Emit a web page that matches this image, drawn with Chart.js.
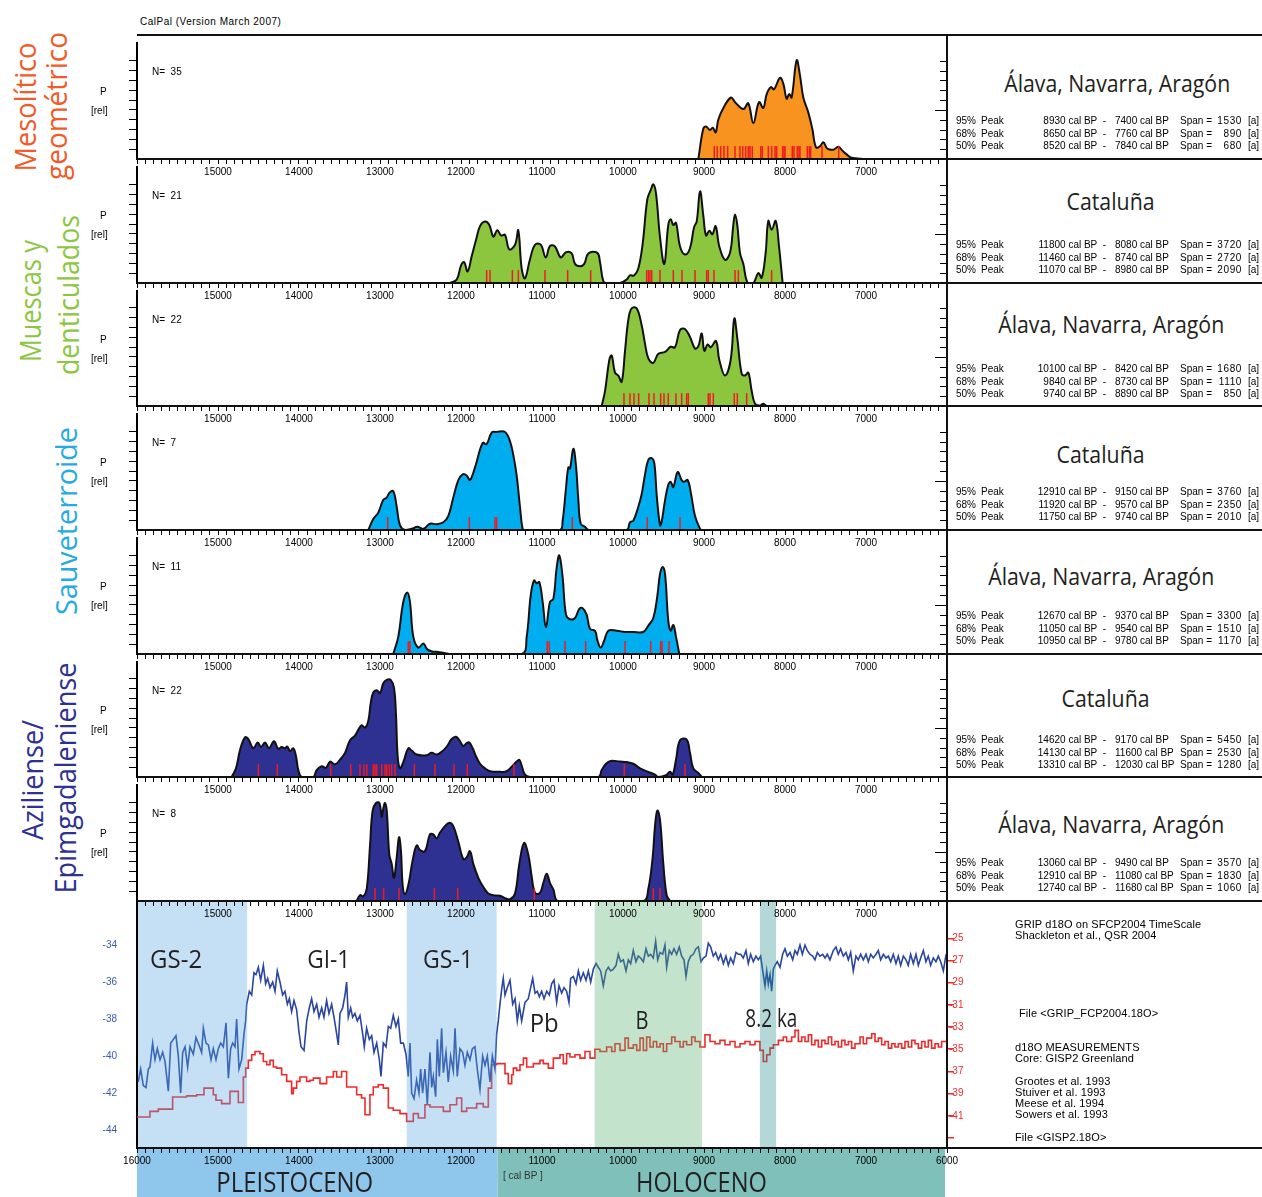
<!DOCTYPE html>
<html><head><meta charset="utf-8">
<script src="https://cdn.jsdelivr.net/npm/chart.js@4.4.1/dist/chart.umd.min.js"></script>
<style>
body{margin:0;background:#fff;}
#root{position:relative;width:1262px;height:1197px;overflow:hidden;font-family:"Liberation Sans",Arial,sans-serif;color:#000;background:#fff;}
.t{position:absolute;white-space:pre;line-height:1;z-index:50;}
canvas{position:absolute;}
.hl{position:absolute;height:2px;background:#111;z-index:40;}
.vl{position:absolute;width:2px;background:#111;z-index:40;}
</style></head><body><div id="root"></div>
<script>
// ---------------- DATA ----------------
const panelEdges = [35,159,283,406,530,654,777,901];
const bottomEdge = 1148;
const panelColors = ['#f7931e','#8cc63f','#8cc63f','#00aeef','#00aeef','#2e3192','#2e3192'];
const regionNames = ['Álava, Navarra, Aragón','Cataluña','Álava, Navarra, Aragón','Cataluña','Álava, Navarra, Aragón','Cataluña','Álava, Navarra, Aragón'];
const sampleCounts = [35,21,22,7,11,22,8];
const range95 = [[8930,7400,1530],[11800,8080,3720],[10100,8420,1680],[12910,9150,3760],[12670,9370,3300],[14620,9170,5450],[13060,9490,3570]];
const range68 = [[8650,7760,890],[11460,8740,2720],[9840,8730,1110],[11920,9570,2350],[11050,9540,1510],[14130,11600,2530],[12910,11080,1830]];
const range50 = [[8520,7840,680],[11070,8980,2090],[9740,8890,850],[11750,9740,2010],[10950,9780,1170],[13310,12030,1280],[12740,11680,1060]];

// summed probability curves (cal BP, relative P)
const mesoGeoAlava = [[9070,0],[9009,0.26],[8975,0.28],[8926,0.25],[8893,0.27],[8856,0.23],[8823,0.34],[8761,0.44],[8667,0.53],[8617,0.49],[8515,0.43],[8454,0.48],[8391,0.31],[8321,0.49],[8268,0.44],[8226,0.56],[8173,0.62],[8136,0.60],[8062,0.70],[8021,0.65],[7980,0.52],[7947,0.56],[7918,0.53],[7856,0.85],[7815,0.72],[7774,0.53],[7712,0.40],[7663,0.26],[7617,0.10],[7568,0.11],[7527,0.145],[7478,0.09],[7404,0.08],[7342,0.105],[7288,0.07],[7239,0.04],[7189,0.014],[7100,0.004],[7037,0]];
const muescasCataluna = [[12136,0],[12053,0.03],[12000,0.15],[11963,0.18],[11918,0.10],[11868,0.23],[11815,0.37],[11765,0.49],[11704,0.53],[11650,0.50],[11601,0.40],[11551,0.455],[11506,0.41],[11457,0.415],[11404,0.29],[11333,0.33],[11293,0.455],[11251,0.125],[11210,0.04],[11148,0.205],[11086,0.33],[11016,0.33],[10954,0.22],[10901,0.32],[10840,0.315],[10769,0.22],[10704,0.265],[10634,0.255],[10593,0.165],[10531,0.145],[10478,0.165],[10428,0.255],[10317,0.26],[10284,0.18],[10243,0.015],[10200,0],[10037,0],[9955,0.03],[9914,0.065],[9864,0.065],[9811,0.125],[9757,0.34],[9700,0.72],[9658,0.80],[9626,0.85],[9593,0.775],[9543,0.395],[9490,0.165],[9441,0.50],[9411,0.55],[9379,0.50],[9346,0.52],[9296,0.315],[9235,0.245],[9173,0.30],[9123,0.48],[9090,0.53],[9049,0.79],[9009,0.585],[8975,0.41],[8934,0.45],[8897,0.42],[8856,0.49],[8811,0.315],[8741,0.20],[8679,0.26],[8638,0.50],[8617,0.59],[8589,0.50],[8556,0.26],[8515,0.165],[8461,0],[8391,0],[8330,0.085],[8288,0.045],[8239,0.26],[8206,0.535],[8165,0.46],[8115,0.535],[8074,0.315],[8029,0]];
const muescasAlava = [[10263,0],[10222,0.13],[10169,0.40],[10140,0.44],[10099,0.29],[10058,0.265],[10016,0.21],[9975,0.48],[9934,0.75],[9893,0.85],[9831,0.85],[9769,0.70],[9728,0.54],[9687,0.415],[9626,0.375],[9564,0.455],[9481,0.47],[9411,0.515],[9358,0.51],[9296,0.66],[9235,0.67],[9173,0.60],[9111,0.50],[9070,0.52],[9028,0.63],[8996,0.48],[8955,0.535],[8917,0.51],[8852,0.565],[8811,0.40],[8741,0.265],[8671,0.40],[8626,0.76],[8589,0.59],[8535,0.28],[8494,0.265],[8453,0.29],[8411,0.13],[8370,0.02],[8309,0.005],[8268,0.02],[8230,0]];
const sauvCataluna = [[13144,0],[13083,0.095],[13021,0.15],[12959,0.26],[12917,0.28],[12885,0.32],[12836,0.335],[12794,0.20],[12753,0.04],[12691,0],[12609,0.01],[12539,0.027],[12465,0.01],[12383,0.054],[12300,0.05],[12218,0.067],[12157,0.12],[12095,0.28],[12033,0.43],[11979,0.48],[11930,0.47],[11889,0.43],[11827,0.54],[11733,0.75],[11683,0.74],[11621,0.84],[11560,0.845],[11457,0.845],[11395,0.765],[11354,0.645],[11313,0.47],[11272,0.20],[11239,0.01],[11210,0],[10778,0],[10745,0.08],[10704,0.36],[10675,0.54],[10654,0.53],[10613,0.70],[10580,0.55],[10551,0.255],[10522,0.054],[10469,0.027],[10420,0],[9955,0],[9914,0.067],[9873,0.08],[9811,0.20],[9769,0.31],[9728,0.48],[9687,0.605],[9646,0.62],[9613,0.575],[9585,0.31],[9543,0.04],[9523,0.07],[9481,0.255],[9441,0.39],[9411,0.415],[9379,0.37],[9325,0.50],[9276,0.43],[9248,0.415],[9202,0.43],[9160,0.31],[9111,0.12],[9049,0.01],[9030,0]];
const sauvAlava = [[12836,0],[12774,0.15],[12712,0.45],[12663,0.53],[12630,0.45],[12589,0.15],[12527,0.055],[12465,0.09],[12416,0.04],[12342,0.02],[12300,0.02],[12177,0.005],[12136,0],[11251,0],[11189,0.15],[11140,0.50],[11099,0.635],[11066,0.61],[11033,0.62],[10992,0.45],[10951,0.23],[10901,0.45],[10860,0.475],[10819,0.745],[10786,0.85],[10745,0.66],[10704,0.34],[10654,0.30],[10593,0.31],[10539,0.39],[10498,0.395],[10449,0.34],[10407,0.215],[10346,0.20],[10317,0.12],[10276,0.055],[10235,0.11],[10181,0.20],[10078,0.20],[9975,0.19],[9873,0.19],[9749,0.19],[9687,0.245],[9626,0.31],[9576,0.50],[9543,0.69],[9510,0.75],[9481,0.69],[9441,0.285],[9411,0.20],[9379,0.25],[9346,0.15],[9305,0]];
const azilCataluna = [[14831,0],[14778,0.075],[14728,0.235],[14667,0.345],[14626,0.33],[14564,0.25],[14510,0.30],[14469,0.26],[14420,0.30],[14370,0.25],[14309,0.31],[14255,0.245],[14214,0.26],[14173,0.25],[14144,0.265],[14111,0.225],[14070,0.25],[14037,0.18],[14008,0.06],[13967,0],[13823,0],[13782,0.06],[13720,0.093],[13667,0.08],[13617,0.134],[13556,0.11],[13494,0.15],[13432,0.21],[13370,0.32],[13309,0.36],[13256,0.425],[13226,0.45],[13185,0.43],[13144,0.49],[13115,0.64],[13083,0.735],[13041,0.755],[13000,0.73],[12959,0.815],[12917,0.845],[12868,0.845],[12827,0.775],[12802,0.53],[12782,0.18],[12753,0.075],[12712,0.13],[12651,0.25],[12609,0.23],[12547,0.195],[12424,0.19],[12362,0.21],[12300,0.195],[12238,0.22],[12177,0.263],[12115,0.33],[12062,0.35],[12021,0.32],[11971,0.27],[11930,0.295],[11897,0.30],[11856,0.25],[11815,0.18],[11765,0.115],[11704,0.075],[11642,0.05],[11519,0.045],[11436,0.05],[11374,0.09],[11313,0.134],[11280,0.15],[11251,0.10],[11210,0.02],[11148,0],[10305,0],[10263,0.06],[10210,0.115],[10152,0.14],[10037,0.134],[9955,0.13],[9873,0.115],[9790,0.075],[9687,0.045],[9605,0.02],[9564,0],[9469,0.015],[9420,0.045],[9387,0.02],[9346,0.15],[9296,0.32],[9214,0.325],[9173,0.21],[9132,0.075],[9070,0.035],[9028,0]];
const azilAlava = [[13288,0],[13247,0.05],[13206,0.04],[13164,0.105],[13123,0.48],[13091,0.78],[13049,0.845],[13008,0.845],[12979,0.725],[12959,0.80],[12938,0.845],[12917,0.78],[12885,0.40],[12856,0.32],[12827,0.20],[12794,0.375],[12765,0.55],[12741,0.43],[12720,0.135],[12691,0.06],[12651,0.135],[12597,0.35],[12547,0.48],[12506,0.44],[12444,0.43],[12383,0.575],[12342,0.575],[12300,0.54],[12259,0.59],[12198,0.645],[12144,0.675],[12095,0.645],[12033,0.51],[11971,0.36],[11930,0.375],[11889,0.43],[11848,0.32],[11786,0.20],[11724,0.12],[11663,0.065],[11601,0.05],[11519,0.045],[11457,0.025],[11395,0.015],[11333,0.065],[11280,0.32],[11222,0.50],[11169,0.40],[11128,0.215],[11086,0.07],[11025,0.07],[10984,0.155],[10942,0.235],[10901,0.155],[10860,0.10],[10798,0],[9749,0],[9687,0.105],[9634,0.375],[9605,0.645],[9576,0.78],[9543,0.70],[9502,0.32],[9461,0.05],[9420,0]];
const curves = [mesoGeoAlava, muescasCataluna, muescasAlava, sauvCataluna, sauvAlava, azilCataluna, azilAlava];

// individual 14C dates (cal BP) shown as red ticks
const datesMesoGeoAlava = [8873,8836,8794,8753,8708,8617,8556,8522,8485,8453,8432,8404,8300,8280,8206,8165,8123,8103,8029,8012,8000,7910,7889,7848,7827,7815,7725,7700,7683,7543,7337];
const datesMuescasCataluna = [11683,11642,11366,11292,10963,10683,10399,9708,9687,9667,9646,9543,9379,9272,9111,8967,8947,8877,8617,8576,8165];
const datesMuescasAlava = [9988,9914,9864,9807,9679,9617,9535,9494,9441,9346,9276,9214,9194,8947,8926,8885,8626,8589,8473];
const datesSauvCataluna = [12905,11897,11580,11560,10626,9700,9296];
const datesSauvAlava = [12651,12630,10935,10910,10716,10461,9975,9658,9535,9519,9432];
const datesAzilCataluna = [14502,14268,13609,13362,13247,13198,13164,13083,13062,13041,12979,12938,12917,12885,12856,12815,12576,12321,12086,11922,11346,9984,9235];
const datesAzilAlava = [13062,12955,12765,12329,12041,11095,9626,9543];
const dateSets = [datesMesoGeoAlava, datesMuescasCataluna, datesMuescasAlava, datesSauvCataluna, datesSauvAlava, datesAzilCataluna, datesAzilAlava];

// GRIP d18O (per mil) on SFCP2004 timescale
const GRIP = [[15984,-41.4],[15955,-40.7],[15922,-41.6],[15889,-41.7],[15860,-40.7],[15840,-40.6],[15807,-39.3],[15778,-40.2],[15749,-39.6],[15716,-40.2],[15683,-39.8],[15654,-40.3],[15613,-41.9],[15584,-39.3],[15551,-39.1],[15519,-38.9],[15490,-40.0],[15461,-42.0],[15436,-39.8],[15407,-39.5],[15375,-40.6],[15346,-39.5],[15305,-39.9],[15272,-39.0],[15235,-39.4],[15202,-39.8],[15181,-38.5],[15148,-39.3],[15119,-39.4],[15086,-40.2],[15058,-39.6],[15025,-40.2],[14996,-39.6],[14967,-39.3],[14934,-39.5],[14901,-38.2],[14872,-41.2],[14844,-39.6],[14819,-39.3],[14790,-39.5],[14770,-38.0],[14741,-40.7],[14708,-40.2],[14679,-38.8],[14659,-38.1],[14646,-37.2],[14613,-36.5],[14584,-36.7],[14556,-35.5],[14531,-35.6],[14502,-35.2],[14473,-35.9],[14440,-35.1],[14412,-36.1],[14387,-35.8],[14358,-36.3],[14325,-36.0],[14296,-36.5],[14268,-35.4],[14235,-36.0],[14202,-36.7],[14173,-36.5],[14144,-37.2],[14119,-36.9],[14091,-37.6],[14062,-37.0],[14029,-37.5],[14000,-38.7],[13975,-39.5],[13938,-39.7],[13905,-38.1],[13873,-37.4],[13844,-36.9],[13815,-37.6],[13782,-37.2],[13753,-37.9],[13720,-37.4],[13692,-37.9],[13659,-37.0],[13630,-37.7],[13597,-37.2],[13568,-37.9],[13535,-38.8],[13515,-39.4],[13494,-37.7],[13461,-37.4],[13432,-36.7],[13412,-36.0],[13391,-37.9],[13362,-37.4],[13338,-37.9],[13309,-37.7],[13280,-38.1],[13247,-37.8],[13214,-38.8],[13194,-39.5],[13165,-38.5],[13132,-39.1],[13103,-38.9],[13074,-39.8],[13041,-39.3],[13008,-40.2],[12988,-41.1],[12959,-39.3],[12926,-39.5],[12897,-38.4],[12868,-38.5],[12836,-37.8],[12803,-38.4],[12774,-38.0],[12745,-39.3],[12712,-39.3],[12679,-39.9],[12651,-41.1],[12630,-39.3],[12609,-42.0],[12580,-42.3],[12548,-41.3],[12519,-42.0],[12498,-40.7],[12474,-42.0],[12445,-40.7],[12416,-42.6],[12383,-39.8],[12362,-41.7],[12342,-41.1],[12313,-42.2],[12292,-39.1],[12268,-41.1],[12239,-38.5],[12218,-40.9],[12185,-39.8],[12157,-41.4],[12128,-40.0],[12095,-40.8],[12074,-38.5],[12046,-41.1],[12013,-39.6],[11980,-39.8],[11951,-40.5],[11922,-39.8],[11889,-40.2],[11860,-39.6],[11828,-39.5],[11799,-40.7],[11766,-41.8],[11733,-40.0],[11704,-40.5],[11675,-40.0],[11642,-41.4],[11613,-40.0],[11581,-40.7],[11560,-38.8],[11540,-38.1],[11519,-37.2],[11498,-36.4],[11478,-35.8],[11457,-36.7],[11428,-36.3],[11395,-35.9],[11362,-37.2],[11333,-36.9],[11305,-38.1],[11280,-37.3],[11251,-38.1],[11210,-37.1],[11169,-36.9],[11140,-36.3],[11115,-35.8],[11086,-36.6],[11058,-36.5],[11033,-36.8],[11004,-36.5],[10975,-36.9],[10942,-36.5],[10909,-36.7],[10881,-36.1],[10852,-35.9],[10819,-37.1],[10790,-36.2],[10757,-36.6],[10728,-36.3],[10696,-36.5],[10667,-37.1],[10646,-35.8],[10613,-35.7],[10580,-36.1],[10551,-35.4],[10523,-35.9],[10490,-35.5],[10457,-35.9],[10428,-35.4],[10399,-36.0],[10366,-35.3],[10333,-35.0],[10305,-35.2],[10276,-35.4],[10243,-36.2],[10210,-35.4],[10181,-35.2],[10152,-35.4],[10119,-35.3],[10086,-35.1],[10058,-34.5],[10029,-34.9],[9996,-34.8],[9963,-35.4],[9934,-34.8],[9905,-35.0],[9873,-34.3],[9840,-34.9],[9811,-34.6],[9782,-34.7],[9749,-34.9],[9716,-34.2],[9687,-34.6],[9659,-34.5],[9626,-34.7],[9597,-33.8],[9572,-34.8],[9543,-34.4],[9510,-34.5],[9482,-34.0],[9461,-35.2],[9428,-34.3],[9399,-34.5],[9370,-34.2],[9338,-34.5],[9305,-34.1],[9276,-34.6],[9247,-34.8],[9222,-35.7],[9194,-34.9],[9165,-34.6],[9132,-34.5],[9099,-34.2],[9070,-34.1],[9037,-34.9],[9008,-34.7],[8975,-34.6],[8947,-33.9],[8918,-34.1],[8885,-34.6],[8856,-34.4],[8823,-34.8],[8794,-34.5],[8761,-35.0],[8729,-34.6],[8700,-35.1],[8671,-34.7],[8638,-35.0],[8605,-34.4],[8576,-34.5],[8547,-34.5],[8515,-34.7],[8482,-34.3],[8453,-35.0],[8424,-34.5],[8391,-34.9],[8358,-34.6],[8329,-34.8],[8301,-34.6],[8268,-35.6],[8247,-36.2],[8226,-35.4],[8206,-36.1],[8185,-35.6],[8165,-36.5],[8144,-35.3],[8124,-35.1],[8095,-34.9],[8062,-35.2],[8029,-34.5],[8000,-34.2],[7971,-34.6],[7938,-34.4],[7905,-34.8],[7877,-34.3],[7848,-34.5],[7815,-34.0],[7786,-34.5],[7753,-34.0],[7724,-34.3],[7692,-34.5],[7659,-34.6],[7630,-34.8],[7601,-34.4],[7568,-34.6],[7535,-34.5],[7506,-34.7],[7478,-34.5],[7445,-34.8],[7404,-34.3],[7371,-34.1],[7342,-34.5],[7313,-34.2],[7280,-34.6],[7247,-34.4],[7218,-34.8],[7189,-34.4],[7157,-35.4],[7124,-34.6],[7095,-34.8],[7066,-34.5],[7033,-34.8],[7000,-34.5],[6971,-34.9],[6942,-34.5],[6910,-34.7],[6877,-34.5],[6848,-34.3],[6819,-34.8],[6786,-34.5],[6753,-34.7],[6724,-34.6],[6695,-34.9],[6663,-34.5],[6630,-35.0],[6601,-34.6],[6572,-35.1],[6539,-34.6],[6506,-34.8],[6478,-35.1],[6449,-34.5],[6416,-35.0],[6383,-34.5],[6354,-35.1],[6325,-34.7],[6292,-34.3],[6260,-34.9],[6231,-34.6],[6202,-35.1],[6169,-34.7],[6136,-34.9],[6107,-34.6],[6078,-34.9],[6045,-35.4],[6012,-34.5]];

// GISP2 d18O (per mil), stepped
const GISP2 = [[16000,-41.1],[15840,-40.6],[15737,-40.4],[15560,-39.3],[15387,-39.2],[15263,-39.1],[15173,-38.5],[15058,-39.1],[15025,-39.6],[14955,-39.9],[14852,-38.8],[14749,-39.8],[14687,-37.5],[14658,-36.7],[14626,-36.0],[14584,-35.5],[14543,-35.2],[14482,-35.4],[14440,-36.1],[14399,-36.4],[14358,-36.0],[14317,-36.6],[14276,-36.7],[14214,-37.3],[14152,-37.9],[14091,-39.0],[14070,-38.5],[14029,-37.9],[13988,-37.5],[13906,-37.9],[13864,-37.8],[13823,-37.6],[13741,-38.1],[13659,-37.5],[13576,-37.0],[13535,-37.5],[13474,-37.0],[13412,-38.4],[13288,-39.1],[13227,-39.4],[13185,-40.9],[13124,-39.1],[13083,-38.4],[13021,-38.2],[12959,-38.5],[12897,-40.3],[12836,-40.5],[12753,-40.8],[12671,-41.5],[12589,-40.8],[12527,-41.2],[12445,-40.0],[12383,-40.2],[12218,-40.6],[12136,-40.0],[12054,-39.4],[11992,-40.6],[11930,-40.3],[11807,-39.9],[11725,-40.2],[11663,-38.5],[11622,-36.4],[11560,-36.3],[11457,-37.2],[11416,-38.1],[11374,-37.3],[11354,-36.7],[11313,-36.9],[11272,-36.4],[11230,-35.8],[11189,-36.6],[11107,-36.3],[11025,-36.0],[10984,-36.3],[10922,-36.7],[10860,-35.8],[10778,-35.5],[10737,-36.3],[10696,-35.4],[10654,-35.7],[10593,-35.5],[10531,-35.8],[10469,-35.2],[10407,-35.8],[10346,-35.0],[10284,-35.2],[10202,-34.8],[10140,-35.2],[10099,-34.5],[10037,-35.1],[9975,-34.0],[9934,-34.9],[9873,-34.6],[9831,-35.1],[9790,-34.0],[9749,-35.1],[9708,-33.9],[9667,-34.8],[9626,-34.3],[9584,-34.8],[9543,-34.5],[9502,-35.2],[9461,-34.5],[9399,-33.9],[9358,-34.3],[9296,-34.8],[9255,-34.3],[9214,-34.6],[9152,-33.9],[9111,-34.3],[9050,-34.8],[8988,-33.7],[8926,-34.3],[8864,-34.5],[8803,-34.2],[8741,-34.6],[8679,-34.3],[8617,-34.8],[8556,-34.5],[8494,-34.3],[8432,-34.6],[8370,-34.3],[8309,-35.1],[8268,-36.1],[8226,-35.5],[8185,-34.9],[8144,-34.6],[8082,-34.2],[8021,-33.9],[7980,-34.3],[7918,-33.9],[7877,-33.3],[7835,-34.3],[7794,-33.9],[7753,-34.3],[7712,-33.7],[7671,-34.6],[7630,-34.2],[7589,-34.8],[7547,-34.2],[7506,-34.5],[7465,-33.9],[7424,-34.6],[7383,-34.3],[7342,-34.8],[7301,-34.2],[7260,-34.6],[7218,-34.3],[7177,-34.9],[7136,-34.5],[7074,-33.9],[7033,-34.5],[6992,-34.0],[6930,-33.6],[6889,-34.3],[6848,-34.0],[6807,-34.6],[6766,-34.3],[6724,-34.9],[6683,-34.5],[6642,-34.8],[6601,-34.5],[6560,-34.9],[6519,-34.3],[6478,-34.8],[6436,-34.2],[6395,-34.5],[6354,-34.9],[6313,-34.3],[6272,-34.8],[6231,-34.2],[6190,-34.9],[6148,-34.5],[6107,-34.8],[6066,-34.3],[6000,-34.3]];

// climate events (cal BP)
const climateEvents = [
  {name:'GS-2', from:16000, to:14640, color:'rgb(89,166,224)'},
  {name:'GS-1', from:12670, to:11560, color:'rgb(89,166,224)'},
  {name:'B',    from:10350, to:9025,  color:'rgb(86,175,109)'},
  {name:'8.2 ka', from:8310, to:8110, color:'rgb(40,143,143)'}
];
const periodBoundary = 11550;
const gripTicks = [-44,-42,-40,-38,-36,-34];
const gispLabelled = [-25,-27,-29,-31,-33,-35,-37,-39,-41];

// ---------------- LAYOUT HELPERS ----------------
const root = document.getElementById('root');
const mctx = document.createElement('canvas').getContext('2d');
function measure(s, size, fam){ mctx.font = size + 'px ' + fam; return mctx.measureText(s).width; }
function addText(s, x, cy, o){
  o = o || {};
  const size = o.size || 10;
  const fam = o.font || '"Liberation Sans", Arial, sans-serif';
  const d = document.createElement('div');
  d.className = 't'; d.textContent = s;
  d.style.fontFamily = fam; d.style.fontSize = size + 'px';
  d.style.left = x + 'px';
  d.style.top = (cy - (o.capc || 0.49) * size) + 'px';
  if (o.color) d.style.color = o.color;
  if (o.ls) d.style.letterSpacing = o.ls + 'px';
  if (o.align === 'center') d.style.transform = 'translateX(-50%)';
  if (o.align === 'right') d.style.transform = 'translateX(-100%)';
  root.appendChild(d);
  return d;
}
const OS = '"Open Sans", "Noto Sans", sans-serif';
function fitText(s, cx, cy, size, len, color){
  const w = measure(s, size, OS);
  const d = document.createElement('div');
  d.className = 't'; d.textContent = s;
  d.style.fontFamily = OS; d.style.fontSize = size + 'px';
  d.style.color = color || '#231f20';
  d.style.left = (cx - w/2) + 'px';
  d.style.top = (cy - 0.531*size) + 'px';
  d.style.transform = 'scaleX(' + (len / w) + ')';
  d.style.transformOrigin = '50% 50%';
  root.appendChild(d);
}
function vLabel(s, cx, cy, color, len, size){
  const w = measure(s, size, OS);
  const d = document.createElement('div');
  d.className = 't'; d.textContent = s;
  d.style.fontFamily = OS; d.style.fontSize = size + 'px'; d.style.color = color;
  d.style.left = cx + 'px'; d.style.top = cy + 'px';
  d.style.transform = 'translate(-50%,-50%) rotate(-90deg) scaleX(' + (len / w) + ')';
  root.appendChild(d);
}
function hLine(y, x1, x2){ const d=document.createElement('div'); d.className='hl'; d.style.top=(y-1)+'px'; d.style.left=x1+'px'; d.style.width=(x2-x1)+'px'; root.appendChild(d); }
function vLine(x, y1, y2){ const d=document.createElement('div'); d.className='vl'; d.style.left=(x-1)+'px'; d.style.top=y1+'px'; d.style.height=(y2-y1)+'px'; root.appendChild(d); }

Chart.defaults.font.family = '"Liberation Sans", Arial, sans-serif';
Chart.defaults.font.size = 10;
Chart.defaults.color = '#000';

function xScale(showEdges, height){
  return {
    type:'linear', min:6000, max:16000, reverse:true,
    afterBuildTicks: s => { const t=[]; for (let v=6000; v<=16000; v+=100) t.push({value:v}); s.ticks=t; },
    ticks:{ autoSkip:false, maxRotation:0, minRotation:0, padding:2, color:'#000', font:{size:10},
      callback: v => (v % 1000 === 0 && (showEdges || (v !== 6000 && v !== 16000))) ? String(v) : '' },
    grid:{ drawOnChartArea:false, tickLength:5, color:'#000', lineWidth:1 },
    border:{ color:'#000', width:2 },
    afterFit: s => { s.height = height; s.paddingLeft = 0; s.paddingRight = 0; }
  };
}

const innerTicks = {
  id:'innerTicks',
  afterDraw(chart){
    const ctx = chart.ctx, a = chart.chartArea, y = chart.scales.y;
    ctx.save(); ctx.strokeStyle = '#000'; ctx.lineWidth = 1;
    y.ticks.forEach((t, k) => {
      const py = Math.round(y.getPixelForValue(t.value)) + 0.5;
      const len = (k === 4) ? 12 : 7;
      ctx.beginPath(); ctx.moveTo(a.right - len, py); ctx.lineTo(a.right, py); ctx.stroke();
    });
    ctx.restore();
  }
};

// ---------------- DENSITY PANELS ----------------
for (let i = 0; i < 7; i++){
  const T = panelEdges[i], B = panelEdges[i+1], H = B - T, XH = 22;
  const cv = document.createElement('canvas');
  cv.width = 870; cv.height = H + XH;
  cv.style.left = '87px'; cv.style.top = T + 'px'; cv.style.zIndex = 10 + i;
  root.appendChild(cv);
  const tickVals = []; for (let k = 1; k <= 10; k++) tickVals.push(k * 10.5 / H);
  new Chart(cv, {
    type:'line',
    data:{ datasets:[
      { data: dateSets[i].map(x => ({x:x, y:0.055})), showLine:false, pointStyle:'line', pointRotation:90,
        pointRadius:6.5, pointBorderColor:'#ed1c24', pointBorderWidth:1.5, pointBackgroundColor:'#ed1c24', order:0 },
      { data: curves[i].map(p => ({x:p[0], y:p[1]})), borderColor:'#111', borderWidth:2, backgroundColor: panelColors[i],
        fill:'origin', pointRadius:0, tension:0.4, borderJoinStyle:'round', order:1 }
    ]},
    options:{
      responsive:false, animation:false, events:[],
      layout:{ padding:{ left:0, top:0, right:10, bottom:0 } },
      plugins:{ legend:{display:false}, tooltip:{enabled:false} },
      scales:{
        x: xScale(false, XH),
        y: { type:'linear', min:0, max:1, position:'left',
          afterBuildTicks: s => { s.ticks = tickVals.map(v => ({value:v})); },
          ticks:{ display:false },
          grid:{ drawOnChartArea:false, tickLength:8, color:'#000', lineWidth:1 },
          border:{ color:'#000', width:2 },
          afterFit: s => { s.width = 50; s.paddingTop = 0; s.paddingBottom = 0; } }
      }
    },
    plugins:[innerTicks]
  });
  addText('N=  ' + sampleCounts[i], 152, T + 37);
  addText('P', 100, T + 57);
  addText('[rel]', 91, T + 76);
}

// ---------------- CLIMATE PANEL ----------------
const climatePlugin = {
  id:'climatePlugin',
  beforeDraw(chart){
    const ctx = chart.ctx, a = chart.chartArea, x = chart.scales.x;
    const b = x.getPixelForValue(periodBoundary);
    ctx.save();
    ctx.fillStyle = '#8fc6eb'; ctx.fillRect(a.left, a.bottom + 1, b - a.left, chart.height - a.bottom);
    ctx.fillStyle = '#80c0bb'; ctx.fillRect(b, a.bottom + 1, a.right - 2 - b, chart.height - a.bottom);
    ctx.restore();
  },
  afterDatasetsDraw(chart){
    const ctx = chart.ctx, a = chart.chartArea, x = chart.scales.x;
    ctx.save(); ctx.globalAlpha = 0.35;
    climateEvents.forEach(ev => {
      const p1 = Math.max(x.getPixelForValue(ev.from), a.left + 1), p2 = x.getPixelForValue(ev.to);
      ctx.fillStyle = ev.color; ctx.fillRect(p1, a.top, p2 - p1, a.bottom - a.top - 1);
    });
    ctx.restore();
  }
};
const cvB = document.createElement('canvas');
cvB.width = 900; cvB.height = 296;
cvB.style.left = '87px'; cvB.style.top = '901px'; cvB.style.zIndex = 1;
root.appendChild(cvB);
new Chart(cvB, {
  type:'line',
  data:{ datasets:[
    { label:'GRIP d18O', data: GRIP.map(p => ({x:p[0], y:p[1]})), yAxisID:'y', borderColor:'#2a46a0', borderWidth:1.6,
      pointRadius:0, tension:0, fill:false },
    { label:'GISP2 d18O', data: GISP2.map(p => ({x:p[0], y:p[1]})), yAxisID:'y2', borderColor:'#ee2b2b', borderWidth:1.6,
      pointRadius:0, stepped:'before', fill:false }
  ]},
  options:{
    responsive:false, animation:false, events:[],
    layout:{ padding:0 },
    plugins:{ legend:{display:false}, tooltip:{enabled:false} },
    scales:{
      x: xScale(true, 49),
      y: { type:'linear', position:'left', min:-44.97, max:-31.62,
        afterBuildTicks: s => { s.ticks = gripTicks.map(v => ({value:v})); },
        ticks:{ color:'#3b5ba9', padding:20, font:{size:10} },
        grid:{ display:false, drawTicks:false },
        border:{ color:'#000', width:2 },
        afterFit: s => { s.width = 50; s.paddingTop = 0; s.paddingBottom = 0; } },
      y2: { type:'linear', position:'right', min:-43.9, max:-21.64,
        afterBuildTicks: s => { const t=[]; for (let v=-25; v>=-43; v--) t.push({value:v}); s.ticks = t; },
        ticks:{ color:'#ee2b2b', padding:-5, font:{size:10}, callback: v => (gispLabelled.includes(v) ? String(v) : '') },
        grid:{ drawOnChartArea:false, color:'#ee2b2b', tickLength:7, lineWidth:1.5 },
        border:{ color:'#000', width:2 },
        afterFit: s => { s.width = 40; s.paddingTop = 0; s.paddingBottom = 0; } }
    }
  },
  plugins:[climatePlugin]
});

// ---------------- FRAME ----------------
panelEdges.forEach(y => hLine(y, 137, 1262));
hLine(bottomEdge, 137, 1262);
vLine(947, 35, bottomEdge);

// ---------------- TEXTS ----------------
addText('CalPal (Version March 2007)', 140, 22, {ls:0.5});

const regionCenters = [1117, 1111, 1111, 1101, 1101, 1106, 1111];
const regionY = [84, 202, 325, 455, 577, 699, 825];
for (let i = 0; i < 7; i++){
  const T = panelEdges[i];
  const nm = regionNames[i];
  const len = nm.length > 10 ? 226 : 88;
  fitText(nm, regionCenters[i], regionY[i], 23, len, '#231f20');
  const rows = [['95%', range95[i]], ['68%', range68[i]], ['50%', range50[i]]];
  rows.forEach((r, k) => {
    const cy = T + 86 + k * 12.4;
    addText(r[0], 956, cy);
    addText('Peak', 981, cy);
    addText(r[1][0] + ' cal BP  -', 1106, cy, {align:'right'});
    addText(r[1][1] + ' cal BP', 1115, cy);
    addText('Span =', 1180, cy);
    addText(String(r[1][2]), 1242, cy, {align:'right', ls:0.6});
    addText('[a]', 1248, cy);
  });
}

// left group labels
vLabel('Mesolítico', 24, 107, '#f15a29', 129, 29);
vLabel('geométrico', 55, 106, '#f15a29', 148, 29);
vLabel('Muescas y', 29, 301, '#8cc63f', 122, 29);
vLabel('denticulados', 67, 295, '#8cc63f', 160, 29);
vLabel('Sauveterroide', 65, 521, '#27aae1', 188, 29);
vLabel('Aziliense/', 31, 780, '#2e3192', 120, 29);
vLabel('Epimgadaleniense', 64, 778, '#2e3192', 231, 29);

// climate labels
fitText('GS-2', 176, 959, 25, 52);
fitText('GI-1', 328.5, 959, 25, 43);
fitText('GS-1', 448, 959, 25, 50);
fitText('Pb', 544.5, 1023, 25, 29);
fitText('B', 642.5, 1020, 25, 13);
fitText('8.2 ka', 771, 1018, 25, 52);
fitText('PLEISTOCENO', 294.5, 1182, 28, 157);
fitText('HOLOCENO', 701.5, 1182, 28, 131);
addText('[ cal BP ]', 503, 1176, {color:'#333'});

// climate record captions
const capX = 1015;
addText('GRIP d18O on SFCP2004 TimeScale', capX, 924, {size:11, ls:0.1});
addText('Shackleton et al., QSR 2004', capX, 935, {size:11, ls:0.1});
addText('File <GRIP_FCP2004.18O>', 1019, 1013, {size:11, ls:0.1});
addText('d18O MEASUREMENTS', capX, 1047, {size:11, ls:0.1});
addText('Core: GISP2 Greenland', capX, 1058, {size:11, ls:0.1});
addText('Grootes et al. 1993', capX, 1081, {size:11, ls:0.1});
addText('Stuiver et al. 1993', capX, 1092, {size:11, ls:0.1});
addText('Meese et al. 1994', capX, 1103, {size:11, ls:0.1});
addText('Sowers et al. 1993', capX, 1114, {size:11, ls:0.1});
addText('File <GISP2.18O>', capX, 1137, {size:11, ls:0.1});
</script></body></html>
